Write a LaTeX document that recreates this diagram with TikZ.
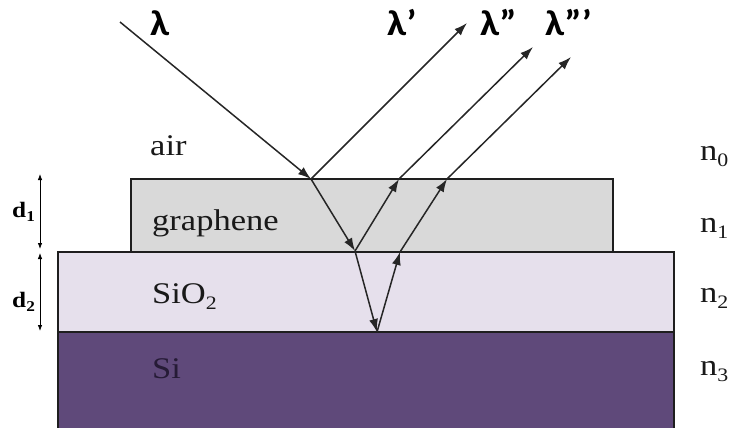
\documentclass[tikz,border=0pt]{standalone}
\usepackage{fontspec}
\setmainfont{Liberation Serif}[FakeStretch=1.15]
\newfontfamily\lamfont{Carlito}[FakeStretch=1.1]
\usetikzlibrary{arrows.meta}
\definecolor{grcol}{HTML}{D9D9D9}
\definecolor{sio}{HTML}{E6E0EC}
\definecolor{sicol}{HTML}{5F497A}
\definecolor{sitext}{HTML}{261B36}
\definecolor{edge}{HTML}{1E1E1E}
\newcommand\mysub[1]{\raisebox{-0.22em}{\fontsize{19}{19}\selectfont #1}}
\tikzset{
  layer/.style={draw=edge, line width=1.2pt},
  ray/.style={line width=1.5pt, draw=black!85, -{Latex[length=13pt,width=9pt]}},
  dimarrow/.style={line width=0.8pt, {Latex[length=6pt,width=4.5pt]}-{Latex[length=6pt,width=4.5pt]}},
  lab/.style={anchor=base west, inner sep=0pt, font=\fontsize{30}{32}\selectfont, text=black!90},
  nlab/.style={anchor=base west, inner sep=0pt, font=\fontsize{30}{32}\selectfont, text=black!90},
  dlab/.style={anchor=base west, inner sep=0pt, font=\fontsize{22}{24}\selectfont\bfseries},
  lam/.style={anchor=base west, inner sep=0pt, font=\lamfont\bfseries\fontsize{36}{38}\selectfont}
}
\begin{document}
\begin{tikzpicture}[x=1pt,y=-1pt]
\useasboundingbox (0,0) rectangle (734,428);
% layers
\fill[sicol] (58,332) rectangle (674,430);
\draw[layer] (58,430) -- (58,332) -- (674,332) -- (674,430);
\filldraw[layer, fill=sio] (58,252) rectangle (674,332);
\filldraw[layer, fill=grcol] (131,179) rectangle (613,252);
% labels of layers
\node[lab] (air) at (150,155) {air};
\node[lab] (gra) at (152,230) {graphene};
\node[lab] (sio2) at (152,303) {SiO\mysub{2}};
\node[lab, text=sitext] (si) at (152,378) {Si};
\node[nlab] (n0) at (700,160) {n\mysub{0}};
\node[nlab] (n1) at (700,232) {n\mysub{1}};
\node[nlab] (n2) at (700,302) {n\mysub{2}};
\node[nlab] (n3) at (700,375) {n\mysub{3}};
% thickness
\coordinate (d1t) at (40,174);
\coordinate (d1b) at (40,249);
\coordinate (d2t) at (40,253);
\coordinate (d2b) at (40,331);
\draw[dimarrow] (d1t) -- (d1b);
\draw[dimarrow] (d2t) -- (d2b);
\node[dlab] (d1) at (12,217) {d\mysub{\normalfont\fontsize{15}{15}\selectfont\bfseries 1}};
\node[dlab] (d2) at (12,307) {d\mysub{\normalfont\fontsize{15}{15}\selectfont\bfseries 2}};
% rays
\coordinate (A) at (120,22);
\coordinate (P) at (311,179);
\coordinate (E1) at (467,23);
\coordinate (Q) at (355,251);
\coordinate (R) at (399,179);
\coordinate (E2) at (533,47);
\coordinate (S) at (377,332);
\coordinate (T) at (400,252);
\coordinate (U) at (447,179);
\coordinate (E3) at (571,57);
\draw[ray] (A) -- (P);
\draw[ray] (P) -- (E1);
\draw[ray] (P) -- (Q);
\draw[ray] (Q) -- (R);
\draw[ray] (R) -- (E2);
\draw[ray] (Q) -- (S);
\draw[ray] (S) -- (T);
\draw[ray] (T) -- (U);
\draw[ray] (U) -- (E3);
% wavelength labels
\node[lam] (l0) at (150,36) {λ};
\node[lam] (l1) at (387,36) {λ’};
\node[lam] (l2) at (480,36) {λ”};
\node[lam] (l3) at (545,36) {λ”’};
\end{tikzpicture}
\end{document}
